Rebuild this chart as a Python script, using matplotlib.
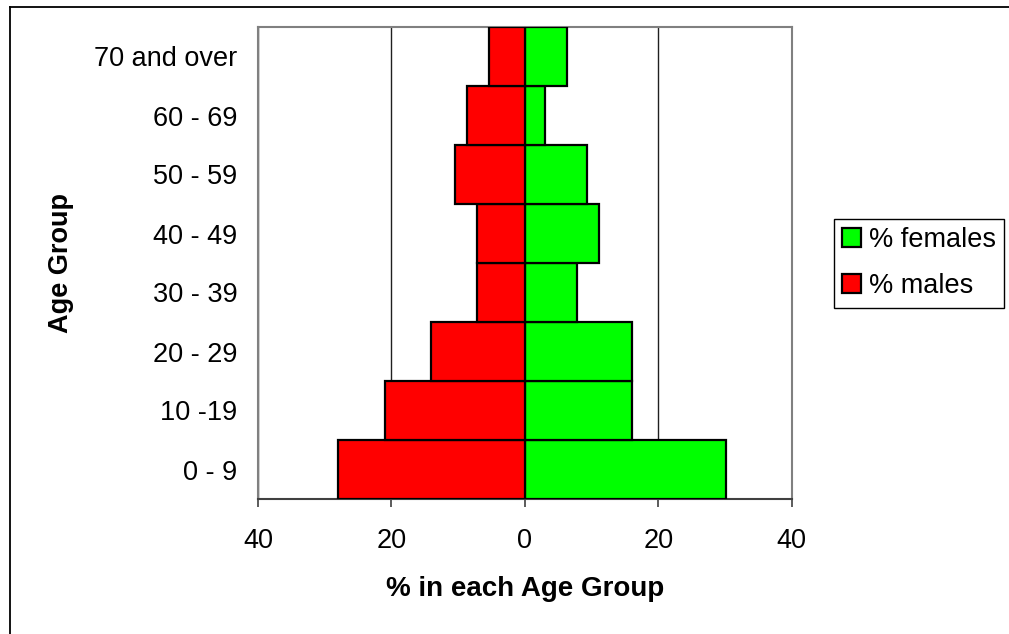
import matplotlib.pyplot as plt
from matplotlib.lines import Line2D
import numpy as np

# values (percent per age band)
age_groups = ['0 - 9', '10 -19', '20 - 29', '30 - 39', '40 - 49',
              '50 - 59', '60 - 69', '70 and over']
pct_males = [28.0, 21.0, 14.1, 7.2, 7.2, 10.5, 8.7, 5.4]
pct_females = [30.2, 16.0, 16.0, 7.8, 11.1, 9.3, 3.0, 6.3]
x_ticks = [-40, -20, 0, 20, 40]
x_tick_labels = ['40', '20', '0', '20', '40']

plt.rcParams['font.family'] = ['Liberation Sans', 'DejaVu Sans']
FS = 19.5

W, H = 1009, 634
fig = plt.figure(figsize=(W / 100, H / 100), dpi=100)
ax = fig.add_axes([258 / W, 1 - 499 / H, (791.7 - 258) / W, (499 - 27) / H])

y = np.arange(len(age_groups))
ax.barh(y, pct_females, height=1.0, color='#00ff00', edgecolor='black',
        linewidth=1.6, label='% females', zorder=3)
ax.barh(y, [-v for v in pct_males], height=1.0, color='#ff0000',
        edgecolor='black', linewidth=1.6, label='% males', zorder=3)

ax.set_xlim(-40, 40)
ax.set_ylim(-0.5, len(age_groups) - 0.5)
ax.set_xticks(x_ticks)
ax.set_xticklabels(x_tick_labels)
ax.set_yticks(y)
ax.set_yticklabels(age_groups)

ax.set_axisbelow(True)
ax.grid(axis='x', color='#202020', linewidth=1.0)
ax.grid(axis='y', visible=False)

for side in ['left', 'top', 'right']:
    ax.spines[side].set_color('#808080')
    ax.spines[side].set_linewidth(1.5)
ax.spines['bottom'].set_color('#404040')
ax.spines['bottom'].set_linewidth(1.5)

ax.tick_params(axis='x', direction='out', length=6, width=1.2,
               color='#404040', labelsize=FS, pad=15)
ax.tick_params(axis='y', length=0, labelsize=FS, pad=15)

ax.set_xlabel('% in each Age Group', fontsize=20, fontweight='bold', labelpad=16)
ax.set_ylabel('Age Group', fontsize=FS, fontweight='bold', labelpad=14)

fig.legend(loc='upper left', bbox_to_anchor=(834 / W, 1 - 219 / H),
           fontsize=FS, frameon=True, fancybox=False, shadow=False,
           edgecolor='black', framealpha=1, handlelength=0.7,
           handleheight=0.7, handletextpad=0.3, labelspacing=0.75,
           borderpad=0.3, borderaxespad=0)

# outer chart border (only top and left edges fall inside the image)
fig.add_artist(Line2D([10 / W, 10 / W], [0, 1 - 7 / H],
                      transform=fig.transFigure, color='black', lw=1.3))
fig.add_artist(Line2D([10 / W, 1], [1 - 7 / H, 1 - 7 / H],
                      transform=fig.transFigure, color='black', lw=1.3))

fig.savefig('out.png', dpi=100)
